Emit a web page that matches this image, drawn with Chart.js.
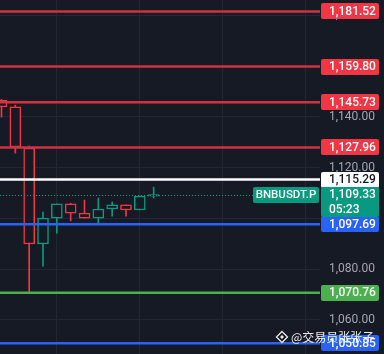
<!DOCTYPE html>
<html>
<head>
<meta charset="utf-8">
<script src="https://cdn.jsdelivr.net/npm/chart.js@4.4.1/dist/chart.umd.min.js"></script>
<style>
  html, body { margin: 0; padding: 0; background: #161a25; }
  #wrap { width: 384px; height: 354px; }
</style>
</head>
<body>
<div id="wrap"><canvas id="chart" width="384" height="354"></canvas></div>
<script>
// candles (index 0 is the leftmost, partly cut off)
const candleIdx = [0, 1, 2, 3, 4, 5, 6, 7, 8, 9, 10, 11];
const opens  = [1146.6, 1143.9, 1127.7, 1089.9, 1100.1, 1105.7, 1102.1, 1100.1, 1103.7, 1105.3, 1103.3, 1108.8];
const highs  = [1146.8, 1144.6, 1128.5, 1102.5, 1105.7, 1106.0, 1107.2, 1108.0, 1106.4, 1105.3, 1108.8, 1112.3];
const lows   = [1139.9, 1125.7, 1070.9, 1081.2, 1094.2, 1099.0, 1100.1, 1098.2, 1100.9, 1100.9, 1103.3, 1108.0];
const closes = [1143.9, 1128.1, 1089.9, 1100.1, 1105.7, 1102.1, 1100.1, 1103.7, 1105.3, 1103.3, 1108.8, 1109.33];

// horizontal levels drawn on the chart
const levelValues = [1181.52, 1159.80, 1145.73, 1127.96, 1115.29, 1097.69, 1070.76, 1050.85];
const levelKinds  = ['red', 'red', 'red', 'red', 'white', 'blue', 'green', 'blue'];

const lastPrice = 1109.33;
const countdown = '05:23';
const symbol = 'BNBUSDT.P';
const watermark = '@交易员张张子';

const priceTicks = [1060, 1080, 1100, 1120, 1140, 1160, 1180];
const timeGrid = [4, 10, 16, 22];

const BG = '#161a25';
const UP = '#089981';
const DOWN = '#f23645';
const kindColors = {
  red:   { line: '#d1323f', box: '#f23645', text: '#ffffff' },
  white: { line: '#ffffff', box: '#ffffff', text: '#131722' },
  blue:  { line: '#2962ff', box: '#2962ff', text: '#ffffff' },
  green: { line: '#4caf50', box: '#4caf50', text: '#ffffff' }
};

const fmt = v => v.toLocaleString('en-US', { minimumFractionDigits: 2, maximumFractionDigits: 2 });
const candleColor = candleIdx.map(i => closes[i] >= opens[i] ? UP : DOWN);

// levels, current price line, labels and watermark
const overlayPlugin = {
  id: 'overlay',
  afterDatasetsDraw(chart) {
    const { ctx, chartArea, scales: { y } } = chart;
    ctx.save();
    // current price dotted line
    const py = Math.round(y.getPixelForValue(lastPrice)) + 0.5;
    ctx.strokeStyle = UP;
    ctx.lineWidth = 1;
    ctx.setLineDash([1, 2]);
    ctx.beginPath();
    ctx.moveTo(chartArea.left, py);
    ctx.lineTo(chartArea.right, py);
    ctx.stroke();
    ctx.setLineDash([]);
    // level lines
    levelValues.forEach((v, i) => {
      const yy = y.getPixelForValue(v);
      ctx.strokeStyle = kindColors[levelKinds[i]].line;
      ctx.lineWidth = 2.5;
      ctx.beginPath();
      ctx.moveTo(chartArea.left, yy);
      ctx.lineTo(chartArea.right, yy);
      ctx.stroke();
    });
    ctx.restore();
  },
  afterDraw(chart) {
    const { ctx, chartArea, scales: { y } } = chart;
    const bx = chartArea.right + 1, bw = 58, tx = bx + 8;
    ctx.save();
    ctx.font = '500 12px Roboto';
    ctx.textBaseline = 'middle';
    ctx.textAlign = 'left';
    levelValues.forEach((v, i) => {
      const c = kindColors[levelKinds[i]];
      const yy = y.getPixelForValue(v);
      ctx.fillStyle = c.box;
      ctx.beginPath();
      ctx.roundRect(bx, Math.round(yy - 8), bw, 16, 2);
      ctx.fill();
      ctx.fillStyle = c.text;
      ctx.fillText(fmt(v), tx, yy + 0.5);
    });
    // last price label with countdown
    const py = y.getPixelForValue(lastPrice);
    ctx.fillStyle = UP;
    ctx.beginPath();
    ctx.roundRect(bx, Math.round(py - 8), bw, 30, 2);
    ctx.fill();
    ctx.fillStyle = '#ffffff';
    ctx.fillText(fmt(lastPrice), tx, py + 0.5);
    ctx.fillText(countdown, tx, py + 15.5);
    // symbol tag
    ctx.fillStyle = UP;
    ctx.beginPath();
    ctx.roundRect(253, Math.round(py - 8), 66, 16, 2);
    ctx.fill();
    ctx.fillStyle = '#ffffff';
    ctx.textAlign = 'center';
    ctx.font = '500 11.5px Roboto';
    ctx.fillText(symbol, 286, py + 0.5);
    // watermark
    ctx.globalAlpha = 0.9;
    ctx.strokeStyle = '#ffffff';
    ctx.fillStyle = '#ffffff';
    ctx.lineWidth = 1.3;
    const cx = 282, cy = 337;
    ctx.beginPath();
    ctx.moveTo(cx, cy - 5.5); ctx.lineTo(cx + 5.5, cy); ctx.lineTo(cx, cy + 5.5); ctx.lineTo(cx - 5.5, cy); ctx.closePath();
    ctx.stroke();
    ctx.beginPath();
    ctx.moveTo(cx, cy - 2); ctx.lineTo(cx + 2, cy); ctx.lineTo(cx, cy + 2); ctx.lineTo(cx - 2, cy); ctx.closePath();
    ctx.fill();
    ctx.textAlign = 'left';
    ctx.font = '12px "Noto Sans CJK SC"';
    ctx.fillText(watermark, 291, cy);
    ctx.restore();
  }
};

new Chart(document.getElementById('chart'), {
  type: 'bar',
  data: {
    datasets: [
      {
        label: 'wick',
        data: candleIdx.map(i => ({ x: i, y: [lows[i], highs[i]] })),
        backgroundColor: candleColor,
        borderWidth: 0,
        barThickness: 1,
        grouped: false,
        order: 2
      },
      {
        label: 'body',
        data: candleIdx.map(i => ({ x: i, y: [opens[i], closes[i]] })),
        backgroundColor: BG,
        borderColor: candleColor,
        borderWidth: 1.5,
        borderSkipped: false,
        barThickness: 11,
        grouped: false,
        order: 1
      }
    ]
  },
  options: {
    responsive: false,
    animation: false,
    devicePixelRatio: 1,
    layout: { padding: 0 },
    plugins: { legend: { display: false }, tooltip: { enabled: false } },
    scales: {
      x: {
        type: 'linear',
        offset: false,
        min: -0.11,
        max: 23.03,
        grid: { color: '#232733', drawTicks: false, offset: false },
        border: { display: false },
        ticks: { display: false },
        afterBuildTicks: s => { s.ticks = timeGrid.map(v => ({ value: v })); },
        afterFit: s => { s.height = 0; s.paddingLeft = 0; s.paddingRight = 0; }
      },
      y: {
        position: 'right',
        min: 1046.6,
        max: 1186.0,
        grid: { color: '#232733', drawTicks: false },
        border: { display: false },
        ticks: {
          color: '#a3a6af',
          padding: 9,
          font: { family: 'Roboto', size: 12 },
          callback: v => fmt(v)
        },
        afterBuildTicks: s => { s.ticks = priceTicks.map(v => ({ value: v })); },
        afterFit: s => { s.width = 64; s.paddingTop = 0; s.paddingBottom = 0; }
      }
    }
  },
  plugins: [overlayPlugin]
});
</script>
</body>
</html>
